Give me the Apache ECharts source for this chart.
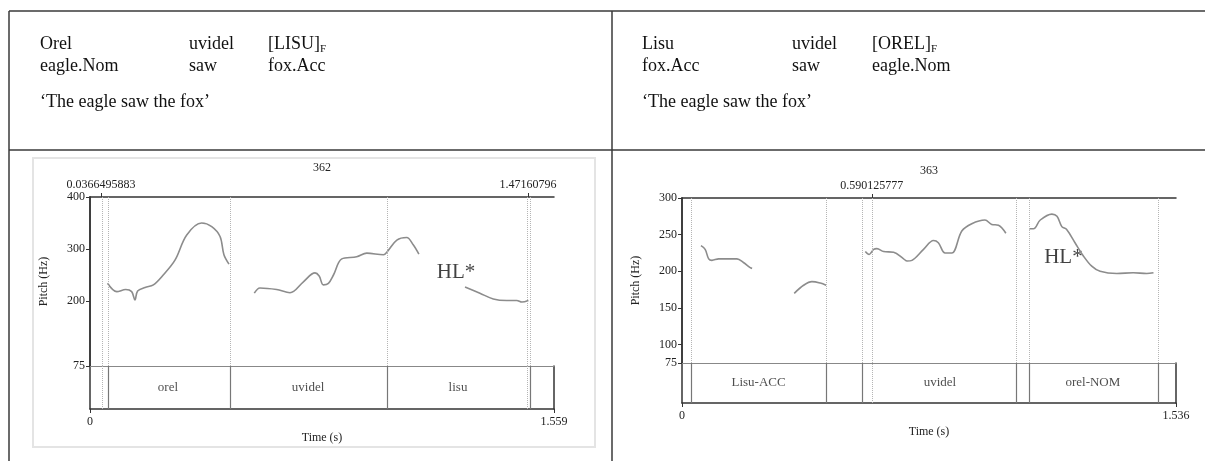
<!DOCTYPE html>
<html>
<head>
<meta charset="utf-8">
<script src="https://cdn.jsdelivr.net/npm/echarts@6/dist/echarts.min.js"></script>
<style>
  html, body { margin: 0; padding: 0; background: #fff; }
  #chart { width: 1205px; height: 461px; }
</style>
</head>
<body>
<div id="chart"></div>
<script>
const leftTimeMax = 1.559
const leftPitchTicks = [75, 200, 300, 400]
const leftCursors = [0.0366495883, 1.47160796]
const leftBounds = [0.057, 0.467, 0.998, 1.475]
const leftWords = ['orel', 'uvidel', 'lisu']
const leftSeg1 = [[0.059, 234], [0.090, 218], [0.120, 222], [0.140, 218], [0.151, 202], [0.160, 219], [0.185, 226], [0.213, 231], [0.246, 250], [0.286, 279], [0.325, 327], [0.375, 350], [0.409, 343], [0.437, 324], [0.450, 289], [0.467, 271]]
const leftSeg2 = [[0.552, 215], [0.571, 225], [0.627, 222], [0.672, 216], [0.717, 237], [0.756, 254], [0.770, 248], [0.784, 231], [0.801, 234], [0.818, 250], [0.846, 281], [0.896, 285], [0.930, 292], [0.986, 289], [0.999, 295], [1.031, 317], [1.064, 322], [1.086, 308], [1.105, 290]]
const leftSeg3 = [[1.260, 227], [1.310, 215], [1.355, 204], [1.400, 201], [1.434, 201], [1.451, 198], [1.473, 201]]
const leftAccent = [1.230, 255]

const rightTimeMax = 1.536
const rightPitchTicks = [75, 100, 150, 200, 250, 300]
const rightCursors = [0.590125777]
const rightBounds = [0.028, 0.448, 0.561, 1.043, 1.077, 1.478]
const rightWords = ['Lisu-ACC', '', 'uvidel', '', 'orel-NOM']
const rightSeg1 = [[0.059, 235], [0.072, 230], [0.083, 217], [0.093, 215], [0.114, 217], [0.171, 217], [0.191, 212], [0.212, 205], [0.218, 204]]
const rightSeg2 = [[0.349, 170], [0.378, 181], [0.404, 186], [0.430, 184], [0.448, 181]]
const rightSeg3 = [[0.570, 227], [0.582, 223], [0.596, 230], [0.606, 231], [0.627, 227], [0.658, 226], [0.689, 217], [0.700, 214], [0.715, 215], [0.751, 230], [0.782, 242], [0.797, 239], [0.818, 225], [0.839, 225], [0.870, 255], [0.901, 265], [0.942, 270], [0.963, 264], [0.984, 263], [1.007, 252]]
const rightSeg4 = [[1.079, 258], [1.093, 258], [1.114, 270], [1.150, 278], [1.166, 275], [1.181, 261], [1.196, 257], [1.222, 239], [1.248, 221], [1.274, 207], [1.300, 200], [1.352, 197], [1.403, 198], [1.445, 197], [1.466, 198]]
const rightAccent = [1.186, 219]

const SERIF = 'Liberation Serif'
const FRAME = '#333'

const grid = []
const xAxis = []
const yAxis = []
const series = []

function frameAxis(extra) {
  return Object.assign({
    type: 'value',
    axisLine: { show: true, lineStyle: { color: FRAME, width: 1.5 } },
    axisTick: { show: false },
    axisLabel: { show: false },
    splitLine: { show: false }
  }, extra)
}

function addPanel(p) {
  const gP = grid.length
  grid.push(p.pitchRect, p.tierRect)
  const gT = gP + 1
  const lab = { fontFamily: SERIF, fontSize: 12, color: '#222' }

  // pitch part: bottom axis draws the 75 Hz line, top axis the cursor times
  const xP = xAxis.length
  xAxis.push(frameAxis({ gridIndex: gP, min: 0, max: p.tMax, position: 'bottom',
    axisLine: { show: true, lineStyle: { color: '#888', width: 1.2 } } }))
  xAxis.push(frameAxis({ gridIndex: gP, min: 0, max: p.tMax, position: 'top',
    axisTick: { show: true, length: 4, customValues: p.cursors, lineStyle: { color: FRAME } },
    axisLabel: Object.assign({ show: true, margin: 6, customValues: p.cursors, formatter: v => String(v) }, lab) }))
  const xT = xAxis.length
  xAxis.push(frameAxis({ gridIndex: gT, min: 0, max: p.tMax, position: 'bottom',
    axisTick: { show: true, length: 4, customValues: [0, p.tMax], lineStyle: { color: FRAME } },
    axisLabel: Object.assign({ show: true, margin: 7, customValues: [0, p.tMax], formatter: v => String(v) }, lab),
    name: 'Time (s)', nameLocation: 'middle', nameGap: 23,
    nameTextStyle: { fontFamily: SERIF, fontSize: 12, color: '#222' } }))

  const yP = yAxis.length
  yAxis.push(frameAxis({ gridIndex: gP, min: 75, max: p.yMax, position: 'left',
    axisTick: { show: true, length: 4, customValues: p.yTicks, lineStyle: { color: FRAME } },
    axisLabel: Object.assign({ show: true, margin: 5, customValues: p.yTicks }, lab),
    name: 'Pitch (Hz)', nameLocation: 'middle', nameGap: 40, nameRotate: 90,
    nameTextStyle: { fontFamily: SERIF, fontSize: 12, color: '#222' } }))
  yAxis.push(frameAxis({ gridIndex: gP, min: 75, max: p.yMax, position: 'right' }))
  const yT = yAxis.length
  yAxis.push(frameAxis({ gridIndex: gT, min: 0, max: 1, position: 'left' }))
  yAxis.push(frameAxis({ gridIndex: gT, min: 0, max: 1, position: 'right' }))

  const dotted = { type: 'dotted', color: '#b5b5b5', width: 1 }
  const pitchLines = p.bounds.concat(p.cursors).map(t => ({ xAxis: t, lineStyle: dotted }))
  const tierLines = p.bounds.map(t => ({ xAxis: t, lineStyle: { type: 'solid', color: '#777', width: 1.2 } }))
    .concat(p.cursors.map(t => ({ xAxis: t, lineStyle: dotted })))

  p.segments.forEach((seg, i) => {
    series.push({
      type: 'line', xAxisIndex: xP, yAxisIndex: yP, data: seg,
      smooth: 0.35, showSymbol: false, silent: true,
      lineStyle: { color: '#8c8c8c', width: 1.6 },
      markLine: i === 0 ? { silent: true, symbol: 'none', label: { show: false }, data: pitchLines } : undefined
    })
  })

  series.push({
    type: 'scatter', xAxisIndex: xP, yAxisIndex: yP, symbolSize: 1, silent: true,
    itemStyle: { color: 'rgba(0,0,0,0)' },
    data: [p.accent],
    label: { show: true, position: 'inside', formatter: 'HL*', fontFamily: SERIF, fontSize: 21, color: '#111' }
  })

  const mids = p.words.map((w, i) => [(p.bounds[i] + p.bounds[i + 1]) / 2, 0.5, w])
  series.push({
    type: 'scatter', xAxisIndex: xT, yAxisIndex: yT, symbolSize: 1, silent: true,
    itemStyle: { color: 'rgba(0,0,0,0)' },
    data: mids,
    label: { show: true, position: 'inside', formatter: q => q.data[2], fontFamily: SERIF, fontSize: 13, color: '#222' },
    markLine: { silent: true, symbol: 'none', label: { show: false }, data: tierLines }
  })
}

addPanel({
  pitchRect: { left: 90, top: 197, width: 464, height: 169 },
  tierRect: { left: 90, top: 366, width: 464, height: 43 },
  tMax: leftTimeMax, yMax: 400, yTicks: leftPitchTicks,
  cursors: leftCursors, bounds: leftBounds, words: leftWords,
  segments: [leftSeg1, leftSeg2, leftSeg3], accent: leftAccent
})
addPanel({
  pitchRect: { left: 682, top: 198, width: 494, height: 165 },
  tierRect: { left: 682, top: 363, width: 494, height: 40 },
  tMax: rightTimeMax, yMax: 300, yTicks: rightPitchTicks,
  cursors: rightCursors, bounds: rightBounds, words: rightWords,
  segments: [rightSeg1, rightSeg2, rightSeg3, rightSeg4], accent: rightAccent
})

// ---- table frame and gloss text ----
const gloss = (x, y, text) => ({
  type: 'text', x: x, y: y,
  style: { text: text, fontFamily: SERIF, fontSize: 18, fill: '#111', verticalAlign: 'middle' }
})
const focus = (x, y, word) => ({
  type: 'text', x: x, y: y,
  style: {
    text: '{b|' + word + '}{s|F}', verticalAlign: 'middle',
    rich: {
      b: { fontFamily: SERIF, fontSize: 18, fill: '#111', lineHeight: 22 },
      s: { fontFamily: SERIF, fontSize: 11, fill: '#111', lineHeight: 12, verticalAlign: 'bottom' }
    }
  }
})
const rule = (x1, y1, x2, y2) => ({
  type: 'line', shape: { x1, y1, x2, y2 }, style: { stroke: '#3a3a3a', lineWidth: 1.5 }
})
const small = (x, y, text) => ({
  type: 'text', x: x, y: y,
  style: { text: text, fontFamily: SERIF, fontSize: 12, fill: '#222', align: 'center', verticalAlign: 'middle' }
})

const graphic = [
  rule(9, 11, 1205, 11), rule(9, 150, 1205, 150),
  rule(9, 11, 9, 461), rule(612, 11, 612, 461),
  { type: 'rect', shape: { x: 33, y: 158, width: 562, height: 289 }, style: { fill: 'none', stroke: '#e4e4e4', lineWidth: 2 } },
  gloss(40, 44, 'Orel'), gloss(189, 44, 'uvidel'), focus(268, 44, '[LISU]'),
  gloss(40, 66, 'eagle.Nom'), gloss(189, 66, 'saw'), gloss(268, 66, 'fox.Acc'),
  gloss(40, 102, '\u2018The eagle saw the fox\u2019'),
  gloss(642, 44, 'Lisu'), gloss(792, 44, 'uvidel'), focus(872, 44, '[OREL]'),
  gloss(642, 66, 'fox.Acc'), gloss(792, 66, 'saw'), gloss(872, 66, 'eagle.Nom'),
  gloss(642, 102, '\u2018The eagle saw the fox\u2019'),
  small(322, 168, '362'), small(929, 171, '363')
]

const chart = echarts.init(document.getElementById('chart'))
chart.setOption({
  animation: false,
  grid: grid,
  xAxis: xAxis,
  yAxis: yAxis,
  series: series,
  graphic: graphic
})
</script>
</body>
</html>
